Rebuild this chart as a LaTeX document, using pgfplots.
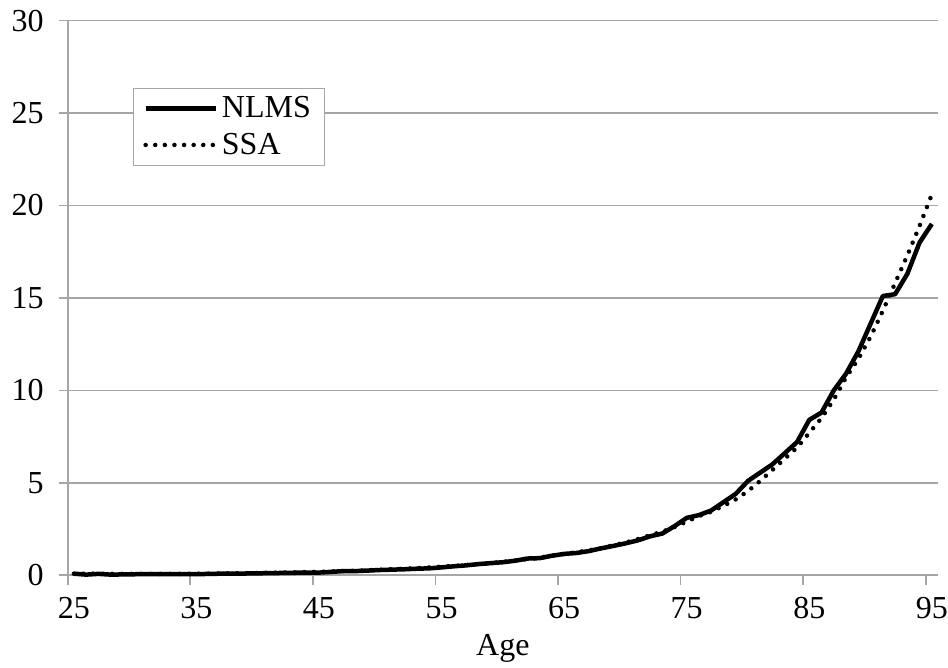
\documentclass[border=0pt]{standalone}
\usepackage{pgfplots}
\pgfplotsset{compat=1.18}
\usepackage{fontspec}
\setmainfont{Liberation Serif}
\definecolor{gridgray}{RGB}{166,166,166}

\begin{document}
\begin{tikzpicture}
\begin{axis}[
    scale only axis,
    width=435pt, height=277.2pt,
    xmin=24.5, xmax=95.5,
    ymin=0, ymax=30,
    axis x line=bottom, axis y line=left,
    axis line style={-, gridgray, line width=0.8pt},
    xtick={25,35,...,95},
    minor xtick={24.5,34.5,...,94.5},
    ytick={0,5,...,30},
    ymajorgrids,
    grid style={gridgray, line width=0.8pt},
    tick align=outside,
    major tick length=4.5pt,
    minor tick length=5pt,
    every major x tick/.append style={draw=none},
    every minor x tick/.append style={gridgray, line width=0.8pt},
    every major y tick/.append style={gridgray, line width=0.8pt},
    /pgf/number format/assume math mode=true,
    ticklabel style={font=\fontsize{16}{19}\selectfont},
    xticklabel style={yshift=-3pt},
    yticklabel style={xshift=-4pt},
    xlabel={Age},
    xlabel style={font=\fontsize{16}{19}\selectfont, yshift=-1pt},
    clip=false,
    legend style={at={(rel axis cs:0.075,0.878)}, anchor=north west,
        draw=gridgray, fill=white, font=\fontsize{16}{19}\selectfont,
        inner xsep=5pt, inner ysep=2pt, row sep=2pt},
    legend cell align=left,
    legend image code/.code={\draw[#1] (0pt,0pt) -- (35pt,0pt);},
]
\addplot[black, line width=2.25pt, line join=round] coordinates {
(25,0.08) (26,0.03) (27,0.07) (28,0.03) (29,0.04) (30,0.05) (31,0.06) (32,0.05)
(33,0.06) (34,0.06) (35,0.05) (36,0.07) (37,0.08) (38,0.08) (39,0.09) (40,0.10)
(41,0.11) (42,0.12) (43,0.13) (44,0.14) (45,0.14) (46,0.18) (47,0.22) (48,0.22)
(49,0.25) (50,0.28) (51,0.30) (52,0.32) (53,0.35) (54,0.37) (55,0.42) (56,0.48)
(57,0.53) (58,0.60) (59,0.65) (60,0.70) (61,0.78) (62,0.90) (63,0.92) (64,1.05)
(65,1.15) (66,1.20) (67,1.30) (68,1.45) (69,1.58) (70,1.72) (71,1.88) (72,2.10)
(73,2.25) (74,2.65) (75,3.10) (76,3.25) (77,3.50) (78,3.95) (79,4.40) (80,5.10)
(81,5.55) (82,6.00) (83,6.60) (84,7.20) (85,8.40) (86,8.80) (87,10.00) (88,10.90)
(89,12.10) (90,13.60) (91,15.10) (92,15.20) (93,16.30) (94,18.00) (95,19.00)
};
\addlegendentry{NLMS}
\addplot[black, line width=2.25pt, line cap=round, dash pattern=on 0pt off 4.8pt] coordinates {
(25,0.08) (26,0.08) (27,0.08) (28,0.07) (29,0.07) (30,0.07) (31,0.07) (32,0.07)
(33,0.07) (34,0.07) (35,0.08) (36,0.08) (37,0.09) (38,0.10) (39,0.11) (40,0.12)
(41,0.13) (42,0.14) (43,0.15) (44,0.17) (45,0.18) (46,0.20) (47,0.22) (48,0.24)
(49,0.27) (50,0.29) (51,0.32) (52,0.35) (53,0.38) (54,0.42) (55,0.46) (56,0.50)
(57,0.55) (58,0.60) (59,0.66) (60,0.72) (61,0.79) (62,0.87) (63,0.95) (64,1.05)
(65,1.15) (66,1.24) (67,1.34) (68,1.46) (69,1.62) (70,1.76) (71,1.95) (72,2.16)
(73,2.35) (74,2.60) (75,2.90) (76,3.20) (77,3.43) (78,3.75) (79,4.10) (80,4.55)
(81,5.10) (82,5.70) (83,6.30) (84,6.90) (85,7.70) (86,8.50) (87,9.50) (88,10.70)
(89,11.70) (90,12.90) (91,14.30) (92,15.80) (93,17.30) (94,18.90) (95,20.60)
};
\addlegendentry{SSA}
\coordinate (sw) at (rel axis cs:0,0);
\coordinate (ne) at (rel axis cs:1,1);
\end{axis}
\pgfresetboundingbox
\path ([shift={(-33.85pt,-46pt)}]sw) rectangle ([shift={(5pt,10.3pt)}]ne);
\end{tikzpicture}
\end{document}
